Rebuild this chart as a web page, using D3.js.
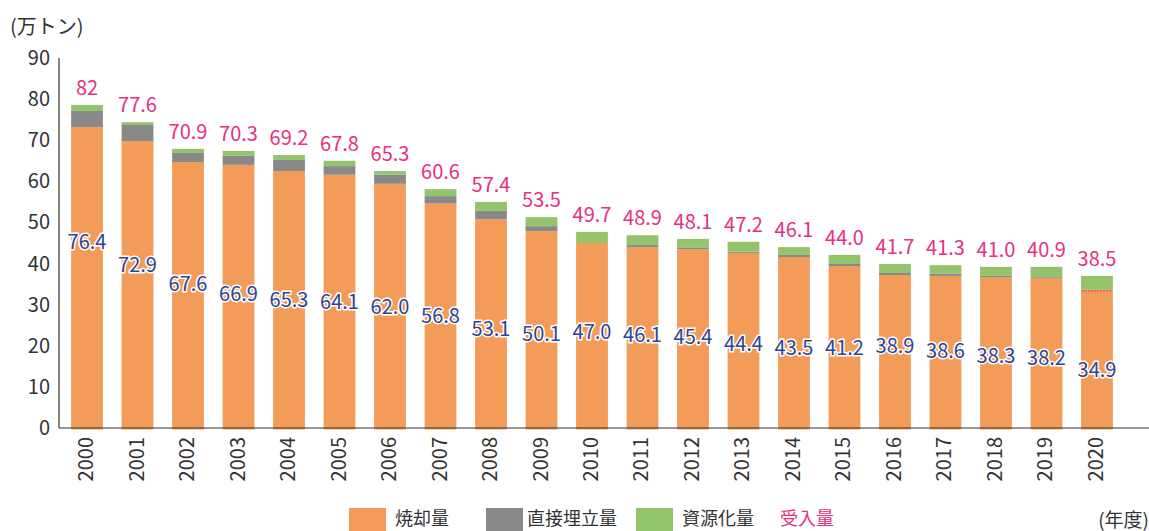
<!DOCTYPE html>
<meta charset="utf-8">
<script src="https://d3js.org/d3.v7.min.js"></script>
<style>
  body { margin: 0; background: #fff; }
  text { font-family: "Noto Sans CJK JP", "Noto Sans", sans-serif; }
</style>
<svg id="chart" width="1149" height="531"></svg>
<script>
// data (万トン)
const years = ["2000","2001","2002","2003","2004","2005","2006","2007","2008","2009","2010",
               "2011","2012","2013","2014","2015","2016","2017","2018","2019","2020"];
const incineration = [73.2,69.8,64.7,64.0,62.5,61.6,59.4,54.6,50.8,47.9,45.0,
                      44.0,43.5,42.6,41.6,39.4,37.2,37.0,36.7,36.5,33.6];
const landfill = [3.9,3.9,2.2,2.2,2.7,2.1,2.2,1.8,2.0,1.2,0,
                  0.5,0.3,0.3,0.5,0.5,0.5,0.5,0.3,0.2,0];
const recycled = [1.5,0.7,1.0,1.2,1.2,1.3,0.9,1.7,2.2,2.2,2.7,
                  2.4,2.2,2.4,1.9,2.2,2.2,2.1,2.2,2.5,3.4];
const receivedLabels = ["82","77.6","70.9","70.3","69.2","67.8","65.3","60.6","57.4","53.5","49.7",
                        "48.9","48.1","47.2","46.1","44.0","41.7","41.3","41.0","40.9","38.5"];
const incinLabels = ["76.4","72.9","67.6","66.9","65.3","64.1","62.0","56.8","53.1","50.1","47.0",
                     "46.1","45.4","44.4","43.5","41.2","38.9","38.6","38.3","38.2","34.9"];
// where the blue labels sit, in axis units
const incinLabelAt = [45.3,39.6,35.0,32.6,31.1,30.7,29.4,27.3,24.1,22.9,23.3,
                      22.6,22.1,20.4,19.5,19.5,20.0,18.7,17.4,17.0,14.1];
const yTicks = [0,10,20,30,40,50,60,70,80,90];

const keys = ["incineration","landfill","recycled"];
const colors = {incineration: "#f39c5a", landfill: "#898989", recycled: "#93c46d"};
const legendNames = {incineration: "焼却量", landfill: "直接埋立量", recycled: "資源化量"};

const rows = years.map((yr, i) => ({
  year: yr, incineration: incineration[i], landfill: landfill[i], recycled: recycled[i]
}));

const svg = d3.select("#chart");
const plotLeft = 59, plotRight = 1125, plotTop = 58, plotBottom = 428;

const x = d3.scaleBand().domain(years).range([plotLeft, plotRight]).paddingInner(0.37).paddingOuter(0.24);
const y = d3.scaleLinear().domain([0, 90]).range([plotBottom, plotTop]);

// stacked bars
const stacked = d3.stack().keys(keys)(rows);
svg.append("g")
  .selectAll("g")
  .data(stacked)
  .join("g")
    .attr("fill", d => colors[d.key])
  .selectAll("rect")
  .data(d => d)
  .join("rect")
    .attr("x", d => x(d.data.year))
    .attr("y", d => y(d[1]))
    .attr("width", x.bandwidth())
    .attr("height", d => y(d[0]) - y(d[1]) + (d[0] === 0 ? 1.5 : 0));

// dotted pink line on the last bar
const last = rows.length - 1;
svg.append("line")
  .attr("x1", x(years[last]) + 1)
  .attr("x2", x(years[last]) + x.bandwidth() - 1)
  .attr("y1", y(incineration[last]) + 1)
  .attr("y2", y(incineration[last]) + 1)
  .attr("stroke", "#e8307e")
  .attr("stroke-width", 1)
  .attr("stroke-dasharray", "2,1");

// axes
svg.append("line")
  .attr("x1", plotLeft).attr("x2", plotLeft).attr("y1", plotTop).attr("y2", plotBottom)
  .attr("stroke", "#333").attr("stroke-width", 1.2);
svg.append("line")
  .attr("x1", plotLeft).attr("x2", 1149).attr("y1", plotBottom).attr("y2", plotBottom)
  .attr("stroke", "#333").attr("stroke-width", 1.2);

svg.append("g")
  .selectAll("text")
  .data(yTicks)
  .join("text")
    .attr("x", 50)
    .attr("y", d => y(d))
    .attr("dy", "0.35em")
    .attr("text-anchor", "end")
    .attr("font-size", 20)
    .attr("fill", "#333")
    .text(d => d);

svg.append("g")
  .selectAll("text")
  .data(years)
  .join("text")
    .attr("transform", d => `translate(${x(d) + x.bandwidth() / 2 - 1},437) rotate(-90)`)
    .attr("text-anchor", "end")
    .attr("dy", "0.35em")
    .attr("font-size", 20)
    .attr("fill", "#333")
    .text(d => d);

// unit labels
svg.append("text")
  .attr("x", 10).attr("y", 27).attr("dy", "0.35em")
  .attr("font-size", 20).attr("fill", "#333")
  .text("(万トン)");
svg.append("text")
  .attr("x", 1149).attr("y", 520).attr("dy", "0.35em")
  .attr("text-anchor", "end")
  .attr("font-size", 19).attr("fill", "#333")
  .text("(年度)");

// received amount labels (pink)
svg.append("g")
  .selectAll("text")
  .data(rows)
  .join("text")
    .attr("x", d => x(d.year) + x.bandwidth() / 2)
    .attr("y", d => y(d.incineration + d.landfill + d.recycled) - 17)
    .attr("dy", "0.35em")
    .attr("text-anchor", "middle")
    .attr("font-size", 20)
    .attr("fill", "#e8307e")
    .attr("stroke", "#fff").attr("stroke-width", 2).attr("paint-order", "stroke")
    .text((d, i) => receivedLabels[i]);

// incineration labels (blue)
svg.append("g")
  .selectAll("text")
  .data(rows)
  .join("text")
    .attr("x", d => x(d.year) + x.bandwidth() / 2)
    .attr("y", (d, i) => y(incinLabelAt[i]))
    .attr("dy", "0.35em")
    .attr("text-anchor", "middle")
    .attr("font-size", 20)
    .attr("fill", "#2b4594")
    .attr("stroke", "#fff").attr("stroke-width", 3).attr("paint-order", "stroke")
    .text((d, i) => incinLabels[i]);

// legend
const legend = svg.append("g");
const legendX = {incineration: 349, landfill: 486, recycled: 636};
keys.forEach(k => {
  legend.append("rect")
    .attr("x", legendX[k]).attr("y", 508)
    .attr("width", 37).attr("height", 23)
    .attr("fill", colors[k]);
  legend.append("text")
    .attr("x", legendX[k] + (k === "landfill" ? 41 : 46)).attr("y", 519).attr("dy", "0.35em")
    .attr("font-size", 18).attr("fill", "#333")
    .text(legendNames[k]);
});
legend.append("text")
  .attr("x", 780).attr("y", 519).attr("dy", "0.35em")
  .attr("font-size", 18).attr("fill", "#e8307e")
  .text("受入量");
</script>
